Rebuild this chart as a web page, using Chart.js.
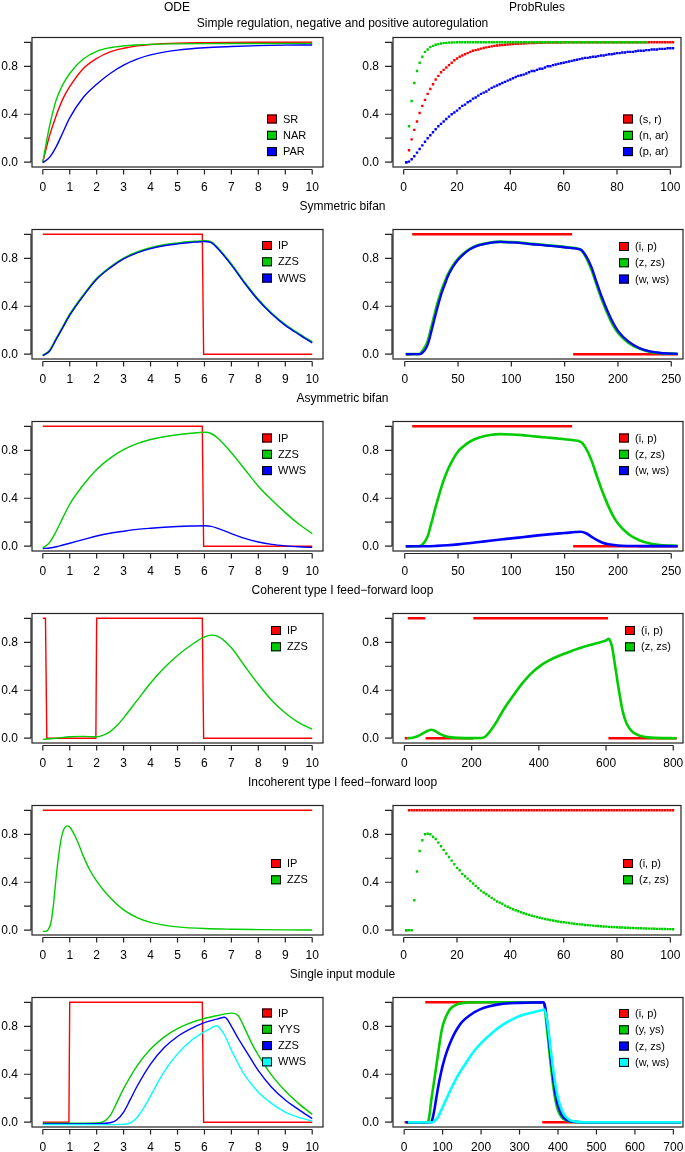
<!DOCTYPE html>
<html><head><meta charset="utf-8">
<script src="https://cdn.jsdelivr.net/npm/chart.js@4/dist/chart.umd.min.js"></script>
<style>
html,body{margin:0;padding:0;background:#fff;}
#wrap{position:relative;width:685px;height:1152px;overflow:hidden;font-family:"Liberation Sans",Arial,Helvetica,sans-serif;background:#fff;}
.cv{position:absolute;}
.t{position:absolute;font-size:12px;color:#000;white-space:nowrap;transform:translate(-50%,-50%);line-height:14px;}
</style></head><body><div id="wrap"></div>
<script>
// ---------- tick labels ----------
const odeTicks = [0,1,2,3,4,5,6,7,8,9,10];
const prTicksA = [0,20,40,60,80,100];
const prTicksB = [0,50,100,150,200,250];
const prTicksC = [0,200,400,600,800];
const prTicksD = [0,100,200,300,400,500,600,700];
const yTicks = [0,0.2,0.4,0.6,0.8,1.0];
const yTickLabels = ['0.0','','0.4','','0.8',''];

// ---------- titles & legends ----------
const colTitles = ['ODE','ProbRules'];
const rowTitles = ['Simple regulation, negative and positive autoregulation','Symmetric bifan','Asymmetric bifan','Coherent type I feed\u2212forward loop','Incoherent type I feed\u2212forward loop','Single input module'];
const legSR = ['SR','NAR','PAR'];
const legSRp = ['(s, r)','(n, ar)','(p, ar)'];
const legBif = ['IP','ZZS','WWS'];
const legBifP = ['(i, p)','(z, zs)','(w, ws)'];
const legFFL = ['IP','ZZS'];
const legFFLp = ['(i, p)','(z, zs)'];
const legSIM = ['IP','YYS','ZZS','WWS'];
const legSIMp = ['(i, p)','(y, ys)','(z, zs)','(w, ws)'];

// ---------- row 1: simple regulation ----------
const srT = [0,0.25,0.5,0.75,1,1.5,2,2.5,3,3.5,4,5,6,7,8,9,10];
const odeSR = [0,0.22,0.39,0.53,0.63,0.78,0.865,0.92,0.95,0.97,0.982,0.993,0.997,0.999,1,1,1];
const odeNAR = [0,0.30,0.52,0.65,0.74,0.86,0.925,0.955,0.97,0.978,0.983,0.987,0.989,0.99,0.99,0.99,0.99];
const odePAR = [-0.005,0.04,0.13,0.25,0.37,0.54,0.65,0.74,0.81,0.86,0.895,0.935,0.955,0.965,0.972,0.976,0.978];
const prSR = [0,.10,.19,.27,.34,.41,.47,.52,.57,.61,
 .65,.69,.72,.75,.77,.79,.81,.83,.85,.865,
 .88,.89,.90,.91,.92,.93,.935,.94,.947,.953,
 .958,.962,.966,.97,.973,.975,.978,.98,.982,.984,
 .985,.987,.988,.99,.99,.992,.993,.993,.994,.995,
 .996,.996,.997,.997,.997,.998,.998,.998,.998,.999,
 1,1,1,1,1,1,1,1,1,1, 1,1,1,1,1,1,1,1,1,1, 1,1,1,1,1,1,1,1,1,1, 1,1,1,1,1,1,1,1,1,1, 1];
const prNAR = [0,.30,.51,.66,.76,.83,.88,.92,.94,.96,
 .97,.98,.985,.99,.993,.995,.997,.998,.999,1,
 1,1,1,1,1,1,1,1,1,1, 1,1,1,1,1,1,1,1,1,1, 1,1,1,1,1,1,1,1,1,1, 1,1,1,1,1,1,1,1,1,1,
 1,1,1,1,1,1,1,1,1,1, 1,1,1,1,1,1,1,1,1,1, 1,1,1,1,1,1,1,1,1,1, 1];
const prPAR = [0,.005,.025,.05,.08,.11,.14,.17,.20,.225,
 .25,.275,.30,.32,.34,.36,.38,.40,.415,.43,
 .45,.47,.48,.50,.51,.53,.54,.555,.57,.58,
 .59,.605,.62,.63,.64,.65,.66,.67,.68,.69,
 .70,.71,.72,.725,.73,.74,.75,.76,.76,.77,
 .78,.78,.79,.80,.80,.81,.815,.82,.825,.83,
 .835,.84,.845,.85,.855,.86,.865,.87,.87,.875,
 .88,.88,.885,.89,.89,.895,.90,.90,.905,.91,
 .91,.915,.915,.92,.92,.92,.925,.93,.93,.93,
 .935,.935,.94,.94,.94,.945,.945,.945,.95,.95,.95];

// ---------- rows 2-3: bifans ----------
const ipStepT = [0,5.92,5.97,10];
const ipStepV = [1,1,0,0];
const bifT = [0,0.25,0.5,0.75,1,1.5,2,2.5,3,3.5,4,4.5,5,5.5,6,6.25,6.5,7,7.5,8,8.5,9,9.5,10];
const sbZZS = [-0.01,0.03,0.13,0.23,0.33,0.49,0.63,0.725,0.80,0.85,0.885,0.91,0.925,0.937,0.945,0.935,0.885,0.75,0.595,0.455,0.34,0.245,0.17,0.10];
const sbWWS = [-0.012,0.025,0.125,0.225,0.325,0.485,0.625,0.72,0.795,0.845,0.88,0.905,0.92,0.932,0.94,0.93,0.88,0.745,0.59,0.45,0.335,0.24,0.165,0.095];
const abZZS = [-0.015,0.03,0.125,0.24,0.35,0.51,0.64,0.735,0.805,0.855,0.89,0.913,0.93,0.942,0.95,0.94,0.90,0.78,0.64,0.50,0.385,0.28,0.185,0.105];
const abWWS = [-0.02,-0.015,-0.005,0.01,0.025,0.055,0.085,0.108,0.125,0.14,0.15,0.158,0.164,0.168,0.17,0.165,0.148,0.105,0.065,0.035,0.015,0.003,-0.005,-0.01];
const bifIpSegs = [[1,6,0],[7,157,1],[158,256,0]];
const bifPrX = [1,13,15,17,20,22,24,26,28,30,32,35,38,40,45,50,55,60,65,70,80,90,100,110,120,130,140,150,160,163,166,170,175,180,185,190,195,200,210,220,230,240,256];
const sbPrZ = [0,0,0.008,0.03,0.075,0.12,0.19,0.26,0.33,0.40,0.46,0.545,0.61,0.655,0.735,0.795,0.838,0.872,0.896,0.911,0.931,0.938,0.934,0.928,0.919,0.911,0.903,0.894,0.884,0.879,0.865,0.81,0.71,0.58,0.455,0.345,0.25,0.18,0.095,0.047,0.02,0.009,0.003];
const sbPrW = [0,0,0.003,0.015,0.05,0.09,0.155,0.225,0.295,0.365,0.43,0.52,0.59,0.64,0.725,0.787,0.833,0.868,0.893,0.909,0.929,0.936,0.932,0.926,0.917,0.909,0.901,0.892,0.882,0.877,0.866,0.82,0.73,0.60,0.475,0.365,0.27,0.195,0.105,0.052,0.023,0.01,0.003];
const abPrZ = [0,0,0.004,0.018,0.055,0.095,0.16,0.225,0.295,0.36,0.42,0.51,0.585,0.63,0.72,0.79,0.832,0.866,0.89,0.907,0.928,0.935,0.932,0.926,0.917,0.909,0.901,0.892,0.882,0.877,0.865,0.815,0.72,0.59,0.465,0.355,0.26,0.19,0.10,0.05,0.022,0.01,0.003];
const abPrWX = [1,20,30,40,50,60,75,90,100,110,125,140,150,160,165,170,175,180,185,190,200,210,220,256];
const abPrW = [0,0,0.003,0.008,0.015,0.024,0.04,0.056,0.065,0.075,0.09,0.103,0.11,0.118,0.121,0.108,0.08,0.052,0.031,0.018,0.006,0.002,0.001,0];

// ---------- row 4: coherent FFL ----------
const cfIpT = [0,0.1,0.15,1.97,2.0,5.92,5.97,10];
const cfIpV = [1,1,0,0,1,1,0,0];
const cfT = [0,0.5,1,1.5,2,2.25,2.5,2.75,3,3.5,4,4.5,5,5.5,6,6.25,6.5,7,7.5,8,8.5,9,9.5,10];
const cfZZS = [-0.01,0.0,0.012,0.015,0.012,0.025,0.055,0.105,0.17,0.315,0.46,0.585,0.69,0.775,0.845,0.86,0.85,0.755,0.60,0.45,0.315,0.21,0.13,0.075];
const cfPrIpSegs = [[1,9,0],[10,62,1],[63,204,0],[205,606,1],[607,810,0]];
const cfPrX = [8,20,30,40,50,60,70,80,90,100,110,120,140,160,200,230,240,250,262,275,287,300,325,350,375,400,425,450,475,500,525,550,575,600,608,612,618,625,632,640,650,660,670,680,700,725,750,810];
const cfPrZ = [0,0.002,0.008,0.018,0.032,0.048,0.062,0.07,0.062,0.045,0.03,0.018,0.007,0.003,0.001,0.002,0.012,0.04,0.085,0.14,0.20,0.26,0.36,0.455,0.535,0.595,0.64,0.675,0.705,0.73,0.755,0.775,0.795,0.815,0.828,0.815,0.76,0.64,0.51,0.37,0.22,0.13,0.08,0.05,0.02,0.007,0.003,0];

// ---------- row 5: incoherent FFL ----------
const ifIpT = [0,10];
const ifIpV = [1,1];
const ifT = [0,0.1,0.2,0.3,0.4,0.5,0.6,0.7,0.8,0.9,1.0,1.25,1.5,1.75,2,2.5,3,3.5,4,4.5,5,6,7,8,9,10];
const ifZZS = [-0.01,-0.01,0.005,0.06,0.22,0.45,0.64,0.78,0.85,0.87,0.86,0.76,0.62,0.50,0.41,0.27,0.17,0.105,0.065,0.042,0.028,0.014,0.008,0.005,0.003,0.002];
const ifPrIP = [0,1,1,1,1,1,1,1,1,1, 1,1,1,1,1,1,1,1,1,1, 1,1,1,1,1,1,1,1,1,1, 1,1,1,1,1,1,1,1,1,1,
 1,1,1,1,1,1,1,1,1,1, 1,1,1,1,1,1,1,1,1,1, 1,1,1,1,1,1,1,1,1,1, 1,1,1,1,1,1,1,1,1,1,
 1,1,1,1,1,1,1,1,1,1, 1,1,1,1,1,1,1,1,1,1, 1];
const ifPrZ = [0,0,0,0.25,0.49,0.66,0.75,0.80,0.805,0.80,
 0.78,0.76,0.73,0.70,0.67,0.64,0.61,0.58,0.55,0.52,
 0.50,0.47,0.45,0.43,0.41,0.39,0.37,0.35,0.33,0.315,
 0.30,0.285,0.27,0.255,0.24,0.23,0.22,0.205,0.195,0.185,
 0.175,0.167,0.158,0.15,0.142,0.135,0.128,0.121,0.115,0.109,
 0.104,0.099,0.094,0.089,0.085,0.081,0.077,0.073,0.069,0.066,
 0.063,0.060,0.057,0.054,0.051,0.049,0.047,0.044,0.042,0.040,
 0.038,0.036,0.035,0.033,0.031,0.030,0.028,0.027,0.026,0.025,
 0.023,0.022,0.021,0.020,0.019,0.018,0.017,0.016,0.016,0.015,
 0.014,0.013,0.013,0.012,0.011,0.011,0.010,0.010,0.009,0.009,0.008];

// ---------- row 6: single input module ----------
const simIpT = [0,0.97,1.0,5.92,5.97,10];
const simIpV = [0,0,1,1,0,0];
const simYT = [0,1,2,2.25,2.5,2.75,3,3.5,4,4.5,5,5.5,6,6.5,7,7.25,7.5,7.75,8,8.5,9,9.5,10];
const simYYS = [-0.008,-0.008,-0.006,0.005,0.055,0.165,0.28,0.47,0.61,0.71,0.78,0.83,0.865,0.89,0.91,0.89,0.78,0.66,0.56,0.39,0.26,0.155,0.065];
const simZT = [0,1,2,2.5,2.75,3,3.25,3.5,4,4.5,5,5.5,6,6.5,6.75,7,7.25,7.5,8,8.5,9,9.5,10];
const simZZS = [-0.015,-0.015,-0.013,-0.005,0.02,0.085,0.19,0.30,0.485,0.62,0.715,0.78,0.83,0.862,0.875,0.80,0.70,0.61,0.43,0.29,0.185,0.105,0.03];
const simWT = [0,1,2,3,3.25,3.5,3.75,4,4.5,5,5.5,6,6.25,6.45,6.75,7,7.5,8,8.5,9,9.5,10];
const simWWS = [-0.02,-0.02,-0.02,-0.018,-0.005,0.04,0.12,0.22,0.42,0.57,0.68,0.755,0.785,0.805,0.725,0.60,0.39,0.25,0.155,0.085,0.04,0.01];
const simPrIpSegs = [[1,54,0],[55,358,1],[359,720,0]];
const simPrYX = [5,60,63,66,70,75,80,85,90,95,100,105,110,115,120,130,140,150,160,200,300,362,366,370,375,380,385,390,395,400,410,420,430,440,460,720];
const simPrY = [0,0,0.01,0.06,0.17,0.28,0.39,0.50,0.61,0.72,0.80,0.85,0.89,0.92,0.945,0.97,0.985,0.993,0.997,1,1,1,0.95,0.82,0.67,0.51,0.37,0.25,0.16,0.10,0.04,0.018,0.007,0.003,0,0];
const simPrZX = [5,70,73,76,80,85,90,95,100,110,120,130,140,150,170,200,250,300,362,366,370,375,380,385,390,395,400,410,420,430,440,460,720];
const simPrZ = [0,0,0.02,0.06,0.13,0.23,0.32,0.40,0.47,0.58,0.665,0.735,0.79,0.835,0.89,0.945,0.985,0.995,1,0.97,0.88,0.74,0.58,0.44,0.31,0.21,0.14,0.06,0.025,0.01,0.004,0,0];
const simPrWX = [10,75,80,85,90,95,100,110,120,140,160,180,200,220,240,260,280,300,320,340,360,364,370,375,380,385,390,395,400,410,420,430,440,450,470,720];
const simPrW = [0,0,0.015,0.03,0.055,0.09,0.125,0.195,0.265,0.39,0.49,0.585,0.66,0.72,0.775,0.82,0.855,0.885,0.905,0.92,0.935,0.94,0.88,0.77,0.63,0.50,0.38,0.28,0.20,0.10,0.045,0.02,0.008,0.003,0,0];

// ---------- helpers ----------
const FONT = '"Liberation Sans", Arial, Helvetica, sans-serif';
const RED = '#FF0000', GREEN = '#00CD00', BLUE = '#0000FF', CYAN = '#00FFFF';
function pts(xs, ys){ return ys.map((y,i)=>({x:xs[i], y:y})); }
function idx(ys, start){ return ys.map((y,i)=>({x:start+i, y:y})); }
function segs(s){
  const out = [];
  s.forEach((g,k)=>{
    if (k>0) out.push({x:(s[k-1][1]+g[0])/2, y:null});
    out.push({x:g[0], y:g[2]}, {x:g[1], y:g[2]});
  });
  return out;
}

const panels = [
 {r:0,c:0,xr:[-0.4,10.4],xt:odeTicks,leg:legSR,lc:[RED,GREEN,BLUE],ldx:-56,ldy:81.5,
  ds:[{d:pts(srT,odeSR),c:RED,k:'ode'},{d:pts(srT,odeNAR),c:GREEN,k:'ode'},{d:pts(srT,odePAR),c:BLUE,k:'ode'}]},
 {r:0,c:1,xr:[-4,104],xt:prTicksA,leg:legSRp,lc:[RED,GREEN,BLUE],ldx:-58,ldy:81.5,
  ds:[{d:idx(prSR,1),c:RED,k:'dots'},{d:idx(prNAR,1),c:GREEN,k:'dots'},{d:idx(prPAR,1),c:BLUE,k:'dots'}]},
 {r:1,c:0,xr:[-0.4,10.4],xt:odeTicks,leg:legBif,lc:[RED,GREEN,BLUE],ldx:-61,ldy:16,
  ds:[{d:pts(ipStepT,ipStepV),c:RED,k:'step'},{d:pts(bifT,sbZZS),c:GREEN,k:'ode',w:2},{d:pts(bifT,sbWWS),c:BLUE,k:'ode'}]},
 {r:1,c:1,xr:[-11,261],xt:prTicksB,leg:legBifP,lc:[RED,GREEN,BLUE],ldx:-64,ldy:17,
  ds:[{d:segs(bifIpSegs),c:RED,k:'seg'},{d:pts(bifPrX,sbPrZ),c:GREEN,k:'dense',w:2.8},{d:pts(bifPrX,sbPrW),c:BLUE,k:'dense',w:2.3}]},
 {r:2,c:0,xr:[-0.4,10.4],xt:odeTicks,leg:legBif,lc:[RED,GREEN,BLUE],ldx:-61,ldy:16.5,
  ds:[{d:pts(ipStepT,ipStepV),c:RED,k:'step'},{d:pts(bifT,abZZS),c:GREEN,k:'ode'},{d:pts(bifT,abWWS),c:BLUE,k:'ode'}]},
 {r:2,c:1,xr:[-11,261],xt:prTicksB,leg:legBifP,lc:[RED,GREEN,BLUE],ldx:-64,ldy:16.5,
  ds:[{d:segs(bifIpSegs),c:RED,k:'seg'},{d:pts(bifPrX,abPrZ),c:GREEN,k:'dense'},{d:pts(abPrWX,abPrW),c:BLUE,k:'dense'}]},
 {r:3,c:0,xr:[-0.4,10.4],xt:odeTicks,leg:legFFL,lc:[RED,GREEN],ldx:-52,ldy:17,
  ds:[{d:pts(cfIpT,cfIpV),c:RED,k:'step'},{d:pts(cfT,cfZZS),c:GREEN,k:'ode'}]},
 {r:3,c:1,xr:[-34,829],xt:prTicksC,leg:legFFLp,lc:[RED,GREEN],ldx:-58,ldy:17,
  ds:[{d:segs(cfPrIpSegs),c:RED,k:'seg'},{d:pts(cfPrX,cfPrZ),c:GREEN,k:'dense'}]},
 {r:4,c:0,xr:[-0.4,10.4],xt:odeTicks,leg:legFFL,lc:[RED,GREEN],ldx:-52,ldy:58,
  ds:[{d:pts(ifIpT,ifIpV),c:RED,k:'step'},{d:pts(ifT,ifZZS),c:GREEN,k:'ode'}]},
 {r:4,c:1,xr:[-4,104],xt:prTicksA,leg:legFFLp,lc:[RED,GREEN],ldx:-58,ldy:58,
  ds:[{d:idx(ifPrIP,1),c:RED,k:'dots'},{d:idx(ifPrZ,1),c:GREEN,k:'dots'}]},
 {r:5,c:0,xr:[-0.4,10.4],xt:odeTicks,leg:legSIM,lc:[RED,GREEN,BLUE,CYAN],ldx:-61,ldy:15.5,
  ds:[{d:pts(simIpT,simIpV),c:RED,k:'step'},{d:pts(simYT,simYYS),c:GREEN,k:'ode'},{d:pts(simZT,simZZS),c:BLUE,k:'ode'},{d:pts(simWT,simWWS),c:CYAN,k:'ode'}]},
 {r:5,c:1,xr:[-29,725],xt:prTicksD,leg:legSIMp,lc:[RED,GREEN,BLUE,CYAN],ldx:-64,ldy:16,
  ds:[{d:segs(simPrIpSegs),c:RED,k:'seg'},{d:pts(simPrYX,simPrY),c:GREEN,k:'dense'},{d:pts(simPrZX,simPrZ),c:BLUE,k:'dense'},{d:pts(simPrWX,simPrW),c:CYAN,k:'dense'}]}
];

function mkDs(s, i){
  const base = {data:s.d, borderColor:s.c, backgroundColor:s.c, order:-i, fill:false};
  if (s.k==='ode') return Object.assign(base,{borderWidth:s.w||1.4, pointRadius:0, cubicInterpolationMode:'monotone'});
  if (s.k==='step') return Object.assign(base,{borderWidth:1.4, pointRadius:0, tension:0});
  if (s.k==='dots') return Object.assign(base,{showLine:false, pointRadius:1.7, pointStyle:'rect', pointBorderWidth:0, pointBackgroundColor:s.c});
  if (s.k==='dense') return Object.assign(base,{borderWidth:s.w||2.6, pointRadius:0, cubicInterpolationMode:'monotone'});
  return Object.assign(base,{borderWidth:2.4, pointRadius:0, tension:0, spanGaps:false});
}

const frame = {
  id:'frame',
  afterDraw(chart){
    const {ctx, chartArea:a, scales} = chart;
    const x = scales.x, y = scales.y;
    ctx.save();
    ctx.strokeStyle = '#222'; ctx.lineWidth = 1.2;
    ctx.strokeRect(a.left, a.top, a.right-a.left, a.bottom-a.top);
    ctx.beginPath();
    const xs = x.ticks.map(t=>x.getPixelForValue(t.value));
    const yb = a.bottom + 2.5;
    ctx.moveTo(xs[0], yb); ctx.lineTo(xs[xs.length-1], yb);
    xs.forEach(px=>{ ctx.moveTo(px, yb); ctx.lineTo(px, yb+5); });
    const ys = y.ticks.map(t=>y.getPixelForValue(t.value));
    const xl = a.left - 1;
    ctx.moveTo(xl, ys[0]); ctx.lineTo(xl, ys[ys.length-1]);
    ys.forEach(py=>{ ctx.moveTo(xl, py); ctx.lineTo(xl-7, py); });
    ctx.stroke();
    ctx.restore();
  }
};

function legendPlugin(p){
  return {
    id:'rlegend',
    afterDraw(chart){
      const {ctx, chartArea:a} = chart;
      ctx.save();
      ctx.font = '11px ' + FONT;
      ctx.textBaseline = 'middle'; ctx.textAlign = 'left';
      p.leg.forEach((lab,i)=>{
        const bx = a.right + p.ldx, cy = a.top + p.ldy + i*16.3;
        ctx.fillStyle = p.lc[i];
        ctx.fillRect(bx, cy-4.5, 10, 9);
        ctx.strokeStyle = '#000'; ctx.lineWidth = 1;
        ctx.strokeRect(bx+0.5, cy-4, 9, 8);
        ctx.fillStyle = '#000';
        ctx.fillText(lab, bx+16, cy+0.5);
      });
      ctx.restore();
    }
  };
}

const wrap = document.getElementById('wrap');
panels.forEach(p=>{
  const left = p.c===0 ? 0 : 342;
  const W = p.c===0 ? 342 : 343;
  const yW = p.c===0 ? 32 : 51;
  const padR = p.c===0 ? 19 : 2;
  const div = document.createElement('div');
  div.className = 'cv';
  div.style.left = left+'px'; div.style.top = (p.r*192)+'px';
  div.style.width = W+'px'; div.style.height = '192px';
  const cv = document.createElement('canvas');
  cv.width = W; cv.height = 192;
  div.appendChild(cv); wrap.appendChild(div);
  new Chart(cv, {
    type:'line',
    data:{datasets:p.ds.map(mkDs)},
    options:{
      responsive:false, animation:false, devicePixelRatio:1, events:[],
      layout:{padding:{top:37.5,right:padR,bottom:0,left:0}},
      plugins:{legend:{display:false}, tooltip:{enabled:false}, title:{display:false}},
      scales:{
        x:{type:'linear', min:p.xr[0], max:p.xr[1],
           grid:{display:false, drawTicks:false}, border:{display:false},
           afterBuildTicks:s=>{ s.ticks = p.xt.map(v=>({value:v})); },
           afterFit:s=>{ s.height = 25; s.paddingLeft = 0; s.paddingRight = 0; },
           ticks:{padding:13, color:'#000', font:{size:12, family:FONT}, autoSkip:false, maxRotation:0, minRotation:0, callback:(v)=>String(v)}},
        y:{type:'linear', min:-0.04, max:1.04,
           grid:{display:false, drawTicks:false}, border:{display:false},
           afterBuildTicks:s=>{ s.ticks = yTicks.map(v=>({value:v})); },
           afterFit:s=>{ s.width = yW; s.paddingTop = 0; s.paddingBottom = 0; },
           ticks:{padding:14, color:'#000', font:{size:12, family:FONT}, autoSkip:false, callback:(v,i)=>yTickLabels[i]}}
      }
    },
    plugins:[frame, legendPlugin(p)]
  });
});

// titles
function addText(txt, cx, cy){
  const d = document.createElement('div');
  d.className = 't'; d.textContent = txt;
  d.style.left = cx+'px'; d.style.top = cy+'px';
  wrap.appendChild(d);
}
addText(colTitles[0], 177, 6.5);
addText(colTitles[1], 537, 6.5);
const rowTitleY = [22.5, 206, 397.5, 589.5, 782, 973.5];
rowTitles.forEach((t,i)=>addText(t, 342.5, rowTitleY[i]));
</script></body></html>
